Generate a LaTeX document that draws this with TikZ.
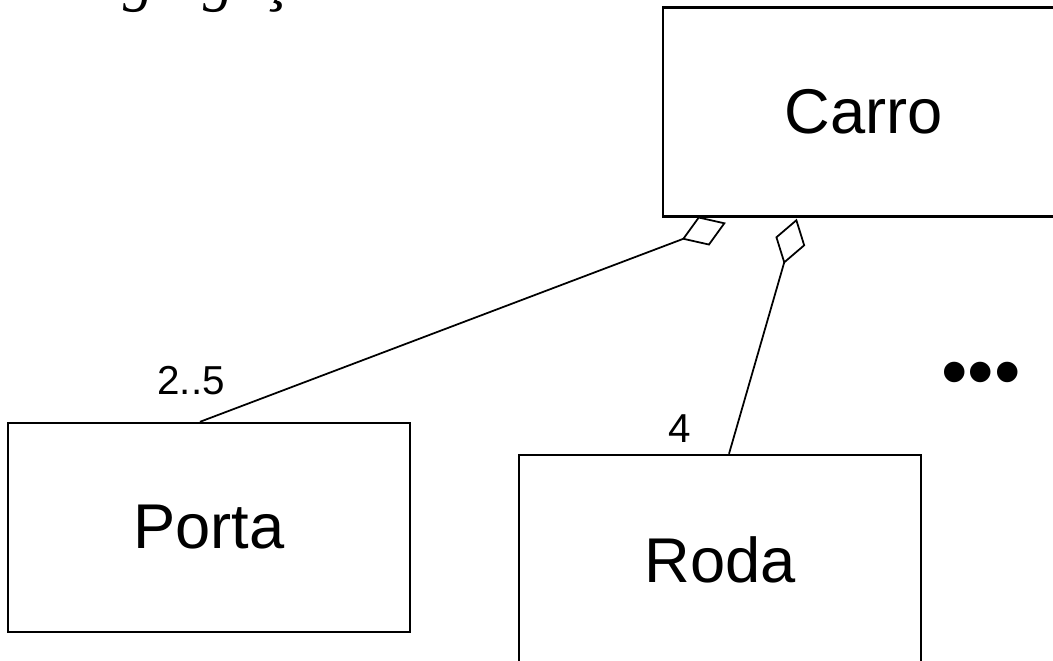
\documentclass[tikz,border=0pt]{standalone}
\usepackage{fontspec}
\setmainfont{Liberation Sans}
\newfontfamily\titlefont{Liberation Serif}
\usetikzlibrary{arrows.meta,positioning}

\begin{document}
\begin{tikzpicture}[x=0.02cm,y=-0.02cm,
    classe/.style={draw,line width=1.4pt,minimum width=8.04cm,minimum height=4.18cm,
      inner sep=0pt,font=\fontsize{36}{40}\selectfont},
    mult/.style={inner sep=0pt,font=\fontsize{23}{26}\selectfont},
    agrega/.style={line width=1pt,-{Diamond[open,length=0.94cm,width=0.62cm]}}]
  \useasboundingbox (0,0) rectangle (1053,660);
  \clip (0,0) rectangle (1053,660);

  % title, only the lower part shows
  \node [anchor=base west,inner sep=0pt,font=\titlefont\itshape\fontsize{35}{40}\selectfont] (titulo) at (86,-1) {Agregação};

  % classes
  \node [classe] (carro) at (864,112) {Carro};
  \node [classe] (porta) at (209,527.5) {Porta};
  \node [classe] (roda) at (720,559.5) {Roda};

  % ends of the aggregations on Carro
  \coordinate (ctaporta) at ([shift={(64,5)}]carro.south west);
  \coordinate (ctaroda) at ([shift={(135,1)}]carro.south west);

  \draw [agrega] ([shift={(-9,0)}]porta.north) -- (ctaporta);
  \draw [agrega] ([shift={(9,0)}]roda.north) -- (ctaroda);

  % multiplicities
  \node [mult] (mporta) at (191,380.5) {2..5};
  \node [mult] (mroda) at (679.5,429) {4};

  \node [inner sep=0pt,font=\fontsize{43}{45}\selectfont] (mais) at (981,380) {•••};
\end{tikzpicture}
\end{document}
